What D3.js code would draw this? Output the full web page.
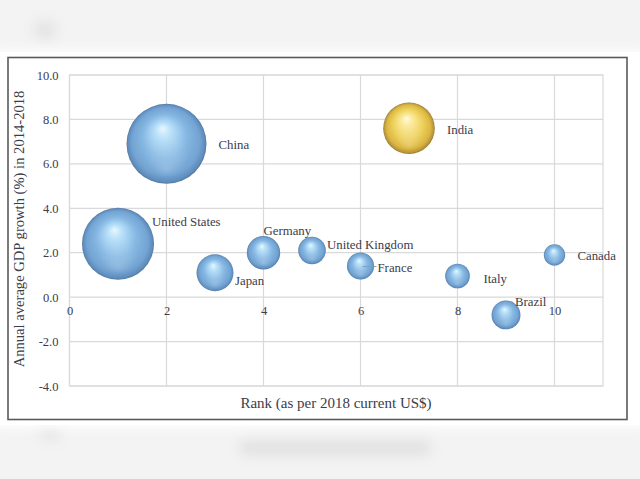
<!DOCTYPE html>
<html><head><meta charset="utf-8">
<script src="https://cdn.jsdelivr.net/npm/d3@7/dist/d3.min.js"></script>
<style>html,body{margin:0;padding:0;background:#fff;}svg{display:block;}</style>
</head><body>
<script>
const countries = ["United States","China","Japan","Germany","United Kingdom","France","India","Italy","Brazil","Canada"];
const rank = [1,2,3,4,5,6,7,8,9,10];
const growth = [2.4,6.9,1.1,2.0,2.1,1.4,7.6,0.95,-0.8,1.9];
const bubbleSize = [20.5,25.3,5.4,4.4,3.0,2.9,10.5,2.4,3.3,1.8];
const highlight = ["India"];
const xTicks = [0,2,4,6,8,10];
const yTicks = [-4,-2,0,2,4,6,8,10];

const W=640,H=479;
const svg=d3.select("body").append("svg").attr("width",W).attr("height",H);
const defs=svg.append("defs");
defs.append("filter").attr("id","blur").attr("x","-20%").attr("y","-50%").attr("width","140%").attr("height","200%")
  .append("feGaussianBlur").attr("stdDeviation",6);

// blurred background bands
const bg=svg.append("g").attr("filter","url(#blur)");
bg.append("rect").attr("x",-10).attr("y",-10).attr("width",W+20).attr("height",60).attr("fill","#f3f3f3");
bg.append("ellipse").attr("cx",45).attr("cy",30).attr("rx",12).attr("ry",10).attr("fill","#e4e4e4");
bg.append("rect").attr("x",-10).attr("y",428).attr("width",W+20).attr("height",70).attr("fill","#f3f3f3");
bg.append("rect").attr("x",240).attr("y",440).attr("width",190).attr("height",16).attr("fill","#e2e2e2");
bg.append("ellipse").attr("cx",50).attr("cy",435).attr("rx",12).attr("ry",6).attr("fill","#e6e6e6");
svg.append("rect").attr("x",0).attr("y",52).attr("width",W).attr("height",373).attr("fill","#fff");

// chart frame
svg.append("rect").attr("x",8).attr("y",57.5).attr("width",619).attr("height",362).attr("fill","#fff")
  .attr("stroke","#5a5a5a").attr("stroke-width",1.6);

const L=69.5,R=603,T=75,B=386;
const x=d3.scaleLinear().domain([0,11]).range([L,R]);
const y=d3.scaleLinear().domain([-4,10]).range([B,T]);
const r=d3.scaleSqrt().domain([0,d3.max(bubbleSize)]).range([0,40]);

const grid=svg.append("g");
grid.selectAll("line.h").data(yTicks).join("line").attr("x1",L).attr("x2",R)
  .attr("y1",d=>y(d)).attr("y2",d=>y(d)).attr("stroke","#d9d9d9").attr("stroke-width",1.2);
grid.selectAll("line.v").data(xTicks).join("line").attr("y1",T).attr("y2",B)
  .attr("x1",d=>x(d)).attr("x2",d=>x(d)).attr("stroke","#d9d9d9").attr("stroke-width",1.2);
grid.append("rect").attr("x",L).attr("y",T).attr("width",R-L).attr("height",B-T)
  .attr("fill","none").attr("stroke","#d9d9d9").attr("stroke-width",1.2);

const font="'Liberation Serif','Times New Roman',serif";
const tc="#3c3c4a";
const fmt1=d=>d.toFixed(1);
// y axis
const yAxis=d3.axisLeft(y).tickValues(yTicks).tickFormat(fmt1).tickSize(0).tickPadding(11);
const gy=svg.append("g").attr("transform",`translate(${L},0)`).call(yAxis);
gy.select(".domain").remove();
gy.selectAll("text").attr("font-family",font).attr("font-size",12.5).attr("fill",tc);
// x axis at y=0
const xAxis=d3.axisBottom(x).tickValues(xTicks).tickFormat(d=>String(d)).tickSize(0).tickPadding(9);
const gx=svg.append("g").attr("transform",`translate(0,${y(0)})`).call(xAxis);
gx.select(".domain").remove();
gx.selectAll("text").attr("font-family",font).attr("font-size",12.5).attr("fill",tc);

// titles
svg.append("text").attr("x",336).attr("y",408).attr("text-anchor","middle")
  .attr("font-family",font).attr("font-size",15).attr("fill",tc).text("Rank (as per 2018 current US$)");
svg.append("text").attr("transform",`translate(24,229) rotate(-90)`).attr("text-anchor","middle")
  .attr("font-family",font).attr("font-size",14.6).attr("fill",tc).text("Annual average GDP growth (%) in 2014-2018");

// gradients
function grad(id,stops){
  const g=defs.append("radialGradient").attr("id",id).attr("cx","50%").attr("cy","50%").attr("r","50%")
    .attr("fx","45%").attr("fy","30%");
  stops.forEach(s=>g.append("stop").attr("offset",s[0]).attr("stop-color",s[1]));
}
grad("gBlue",[[0,"#e8f8ff"],[0.2,"#b8e0f9"],[0.55,"#86b8e3"],[0.85,"#72a3d2"],[0.96,"#5f8dbd"],[1,"#54789e"]]);
grad("gGold",[[0,"#fffbe0"],[0.2,"#fbeb9e"],[0.55,"#efd35f"],[0.85,"#dcb642"],[0.96,"#b8953a"],[1,"#8d7430"]]);
// bottom reflection gradient
const refl=defs.append("radialGradient").attr("id","gRefl").attr("cx","50%").attr("cy","50%").attr("r","50%").attr("fx","50%").attr("fy","85%");
refl.append("stop").attr("offset",0).attr("stop-color","#fff").attr("stop-opacity",0.18);
refl.append("stop").attr("offset",0.6).attr("stop-color","#fff").attr("stop-opacity",0);

const data=countries.map((c,i)=>({c,x:rank[i],y:growth[i],s:bubbleSize[i]}));
const bub=svg.append("g");
bub.selectAll("circle.b").data(data).join("circle").attr("class","b")
  .attr("cx",d=>x(d.x)).attr("cy",d=>y(d.y)).attr("r",d=>r(d.s))
  .attr("fill",d=>highlight.includes(d.c)?"url(#gGold)":"url(#gBlue)");
bub.selectAll("circle.r").data(data).join("circle").attr("class","r")
  .attr("cx",d=>x(d.x)).attr("cy",d=>y(d.y)).attr("r",d=>r(d.s)*0.92)
  .attr("fill","url(#gRefl)");

// labels (offsets in px relative to bubble centre)
const labelOffset={"United States":[34,-22],"China":[52,1],"Japan":[20,8],"Germany":[0,-22],
  "United Kingdom":[15,-6],"France":[17,1],"India":[38,1],"Italy":[26,2],"Brazil":[9,-13],"Canada":[23,1]};
svg.append("line").attr("x1",x(6)+2).attr("x2",x(6)+16).attr("y1",y(1.4)+0.5).attr("y2",y(1.4)+0.5)
  .attr("stroke","#7f9fbf").attr("stroke-width",1);
svg.append("g").selectAll("text").data(data).join("text")
  .attr("x",d=>x(d.x)+labelOffset[d.c][0]).attr("y",d=>y(d.y)+labelOffset[d.c][1])
  .attr("dy","0.35em").attr("font-family",font).attr("font-size",12.8).attr("fill",tc).text(d=>d.c);
</script>
</body></html>
